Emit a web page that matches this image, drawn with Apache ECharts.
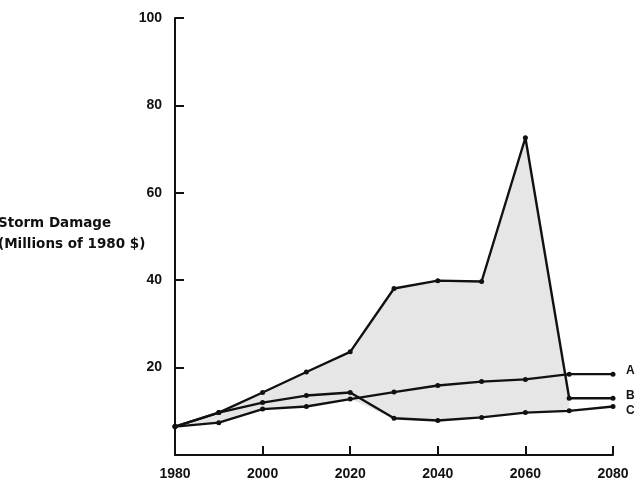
<!DOCTYPE html>
<html>
<head>
<meta charset="utf-8">
<script src="https://cdn.jsdelivr.net/npm/echarts@6/dist/echarts.min.js"></script>
<style>
  html, body { margin: 0; padding: 0; background: #fff; }
  #chart { width: 639px; height: 490px; }
</style>
</head>
<body>
<div id="chart"></div>
<script>
// years on the x axis
var years = [1980, 1990, 2000, 2010, 2020, 2030, 2040, 2050, 2060, 2070, 2080]
// storm damage, millions of 1980 $
var seriesA = [6.5, 7.4, 10.5, 11.1, 12.8, 14.4, 15.9, 16.8, 17.3, 18.5, 18.5]
var seriesB = [6.5, 9.7, 14.3, 19.0, 23.6, 38.1, 39.9, 39.7, 72.6, 13.0, 13.0]
var seriesC = [6.5, 9.7, 12.0, 13.6, 14.3, 8.4, 7.9, 8.6, 9.7, 10.1, 11.1]
var xTicks = [1980, 2000, 2020, 2040, 2060, 2080]
var yTicks = [20, 40, 60, 80, 100]
// the shaded range stops where B drops back down
var bandEnd = 2070

function pairs(vals) {
  return years.map(function (y, i) { return [y, vals[i]] })
}

// shaded band: from the lowest of the three lines up to B
var lowEdge = years.map(function (y, i) { return Math.min(seriesA[i], seriesB[i], seriesC[i]) })

var font = '"Liberation Sans", Arial, sans-serif'

function lineSeries(name, vals, off) {
  return {
    name: name,
    type: 'line',
    data: pairs(vals),
    symbol: 'circle',
    symbolSize: 5,
    z: 5,
    itemStyle: { color: '#111' },
    lineStyle: { color: '#111', width: 2.4 },
    endLabel: {
      show: true,
      formatter: name,
      color: '#111',
      fontFamily: font,
      fontWeight: 'bold',
      fontSize: 12,
      distance: 0,
      offset: off
    }
  }
}

var myChart = echarts.init(document.getElementById('chart'))
myChart.setOption({
  animation: false,
  backgroundColor: '#fff',
  grid: { left: 175, right: 26, top: 18, bottom: 35 },
  xAxis: {
    type: 'value',
    min: 1980,
    max: 2080,
    interval: 20,
    axisLine: { lineStyle: { color: '#111', width: 2 } },
    axisTick: { inside: true, length: 9, lineStyle: { color: '#111', width: 2 } },
    splitLine: { show: false },
    axisLabel: {
      color: '#111', fontFamily: font, fontWeight: 'bold', fontSize: 14, margin: 12,
      formatter: function (v) { return xTicks.indexOf(v) >= 0 ? String(v) : '' }
    }
  },
  yAxis: {
    type: 'value',
    min: 0,
    max: 100,
    interval: 20,
    axisLine: { show: true, lineStyle: { color: '#111', width: 2 } },
    axisTick: { show: true, inside: true, length: 9, lineStyle: { color: '#111', width: 2 } },
    splitLine: { show: false },
    axisLabel: {
      color: '#111', fontFamily: font, fontWeight: 'bold', fontSize: 14, margin: 13,
      formatter: function (v) { return yTicks.indexOf(v) >= 0 ? String(v) : '' }
    }
  },
  graphic: [{
    type: 'text',
    left: -2,
    top: 213,
    style: {
      text: 'Storm Damage\n(Millions of 1980 $)',
      fill: '#111',
      font: 'bold 13.5px "DejaVu Sans", sans-serif',
      lineHeight: 21
    }
  }],
  series: [
    {
      name: 'band',
      type: 'custom',
      silent: true,
      z: 1,
      data: [0],
      renderItem: function (params, api) {
        var pts = []
        var idx = years.filter(function (y) { return y <= bandEnd }).map(function (y, i) { return i })
        idx.forEach(function (i) { pts.push(api.coord([years[i], seriesB[i]])) })
        idx.slice().reverse().forEach(function (i) { pts.push(api.coord([years[i], lowEdge[i]])) })
        return {
          type: 'polygon',
          shape: { points: pts },
          style: { fill: '#e6e6e6' }
        }
      }
    },
    lineSeries('A', seriesA, [13, -3]),
    lineSeries('B', seriesB, [13, -3]),
    lineSeries('C', seriesC, [13, 4])
  ]
})
</script>
</body>
</html>
